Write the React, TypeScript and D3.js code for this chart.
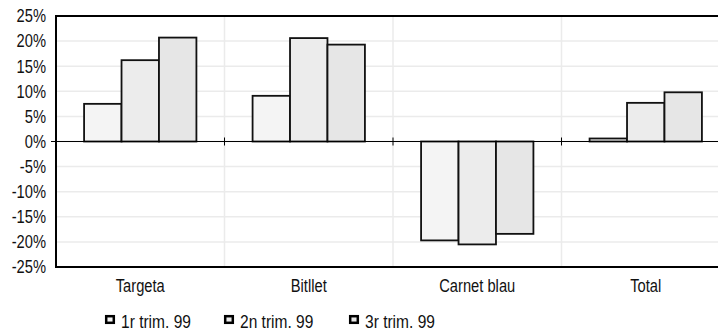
import React from "react";
import * as d3 from "d3";

const categories = ["Targeta", "Bitllet", "Carnet blau", "Total"];
const seriesNames = ["1r trim. 99", "2n trim. 99", "3r trim. 99"];
const trim1 = [7.5, 9.1, -19.7, 0.6];
const trim2 = [16.2, 20.6, -20.5, 7.7];
const trim3 = [20.7, 19.3, -18.4, 9.8];
const yTicks = [-25, -20, -15, -10, -5, 0, 5, 10, 15, 20, 25];

const seriesValues = [trim1, trim2, trim3];
const fills = ["#f4f4f4", "#ececec", "#e6e6e6"];
const FONT = "'Liberation Sans', Arial, sans-serif";
const SX = 0.84;

function NText({ x, y, anchor, size, children }: { x: number; y: number; anchor?: string; size: number; children: React.ReactNode }) {
  return (
    <text transform={`translate(${x},${y}) scale(${SX},1)`} textAnchor={anchor || "start"} fontSize={size} fill="#111">
      {children}
    </text>
  );
}

export default function App() {
  const W = 718, H = 331;
  const left = 56, top = 16, bottom = 267;
  const bandW = 168.5;
  const x = d3.scaleBand<string>().domain(categories).range([left, left + bandW * categories.length]).padding(0);
  const xs = d3.scaleBand<string>().domain(seriesNames).range([0, x.bandwidth()]).paddingInner(0).paddingOuter(0.75);
  const y = d3.scaleLinear().domain([-25, 25]).range([bottom, top]);
  const legendX = [105, 224, 349];

  return (
    <svg width={W} height={H} style={{ position: "fixed", left: 0, top: 0, background: "#fff" }} fontFamily={FONT}>
      {yTicks.map((t) => (
        <line key={"g" + t} x1={left} x2={W} y1={y(t)} y2={y(t)} stroke="#ebebeb" strokeWidth={1.5} />
      ))}
      {categories.slice(1).map((c) => (
        <line key={"v" + c} x1={x(c)!} x2={x(c)!} y1={top} y2={bottom} stroke="#ebebeb" strokeWidth={1.5} />
      ))}
      {categories.map((c, ci) =>
        seriesNames.map((s, si) => {
          const v = seriesValues[si][ci];
          const x0 = x(c)! + xs(s)!;
          const y0 = Math.min(y(v), y(0));
          const h = Math.abs(y(v) - y(0));
          return (
            <rect key={c + s} x={x0} y={y0} width={xs.bandwidth()} height={h} fill={fills[si]} stroke="#111" strokeWidth={1.8} />
          );
        })
      )}
      <line x1={left - 5} x2={W} y1={y(0)} y2={y(0)} stroke="#000" strokeWidth={1} />
      {categories.slice(1).map((c) => (
        <line key={"t" + c} x1={x(c)!} x2={x(c)!} y1={y(0) - 4} y2={y(0) + 4} stroke="#000" strokeWidth={1} />
      ))}
      <line x1={left} x2={W} y1={top} y2={top} stroke="#000" strokeWidth={2} />
      <line x1={left} x2={W} y1={bottom} y2={bottom} stroke="#000" strokeWidth={2} />
      <line x1={left} x2={left} y1={top - 1} y2={bottom + 1} stroke="#000" strokeWidth={2} />
      {yTicks.map((t) => (
        <NText key={"l" + t} x={46} y={y(t) + 6.3} anchor="end" size={17.5}>
          {t + "%"}
        </NText>
      ))}
      {categories.map((c) => (
        <NText key={"c" + c} x={x(c)! + x.bandwidth() / 2} y={292} anchor="middle" size={17.5}>
          {c}
        </NText>
      ))}
      {seriesNames.map((s, i) => (
        <g key={"lg" + s} transform={`translate(${legendX[i]},0)`}>
          <rect x={1.2} y={316.2} width={7.6} height={6.6} fill={fills[i]} stroke="#000" strokeWidth={2.5} />
          <NText x={16} y={328} size={18.5}>{s}</NText>
        </g>
      ))}
    </svg>
  );
}
